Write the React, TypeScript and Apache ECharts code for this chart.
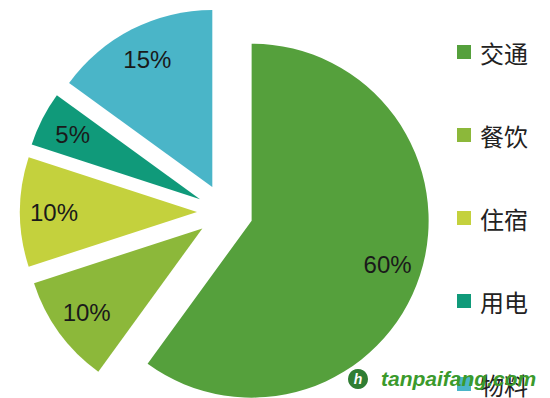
import React, { useEffect, useRef } from "react";
import * as echarts from "echarts";

const categories = ["交通", "餐饮", "住宿", "用电", "物料"];
const shares = [60, 10, 10, 5, 15];
const sliceColors = ["#55a03c", "#8cb83a", "#c4d13d", "#109a7a", "#4ab5c8"];
const watermarkText = "tanpaifang.com";

export default function App() {
  const ref = useRef<HTMLDivElement>(null);

  useEffect(() => {
    if (!ref.current) return;
    const chart = echarts.init(ref.current, null, { renderer: "svg" });

    const pieData = categories.map((name, i) => ({
      name,
      value: shares[i],
      selected: true,
      itemStyle: { color: sliceColors[i] },
    }));

    const labelData = categories.map((name, i) => ({
      name,
      value: shares[i],
      selected: true,
    }));

    chart.setOption({
      animation: false,
      backgroundColor: "#ffffff",
      legend: {
        data: categories,
        orient: "vertical",
        left: 457,
        top: 40,
        padding: 0,
        height: 358,
        itemWidth: 14,
        itemHeight: 14,
        itemGap: 59,
        icon: "rect",
        selectedMode: false,
        textStyle: {
          fontSize: 24,
          lineHeight: 24,
          color: "#222222",
          fontFamily: "Noto Sans CJK SC",
          padding: [0, 0, 0, 4],
        },
      },
      series: [
        {
          type: "pie",
          center: [225, 212],
          radius: 177,
          startAngle: 90,
          clockwise: true,
          selectedMode: "multiple",
          selectedOffset: 28,
          avoidLabelOverlap: false,
          label: { show: false },
          labelLine: { show: false },
          emphasis: { disabled: true },
          itemStyle: { borderWidth: 0 },
          data: pieData,
        },
        {
          type: "pie",
          center: [225, 212],
          radius: [103, 177],
          startAngle: 90,
          clockwise: true,
          selectedMode: "multiple",
          selectedOffset: 28,
          silent: true,
          legendHoverLink: false,
          avoidLabelOverlap: false,
          itemStyle: { color: "transparent", borderWidth: 0 },
          emphasis: { disabled: true },
          label: {
            show: true,
            position: "inside",
            formatter: "{c}%",
            fontSize: 24,
            color: "#1a1a1a",
            fontFamily: "Liberation Sans",
          },
          labelLine: { show: false },
          data: labelData,
        },
      ],
      graphic: [
        {
          type: "circle",
          shape: { cx: 358, cy: 379, r: 10 },
          style: { fill: "#2f7d33" },
          z: 100,
        },
        {
          type: "text",
          x: 358,
          y: 379,
          style: {
            text: "h",
            fill: "#ffffff",
            font: "italic bold 14px Liberation Sans",
            align: "center",
            verticalAlign: "middle",
          },
          z: 101,
        },
        {
          type: "text",
          x: 381,
          y: 378,
          style: {
            text: watermarkText,
            fill: "#3b9a2c",
            font: "italic bold 21px Liberation Sans",
            verticalAlign: "middle",
          },
          z: 100,
        },
      ],
    });

    return () => chart.dispose();
  }, []);

  return (
    <div
      ref={ref}
      style={{ position: "fixed", left: 0, top: 0, width: 550, height: 398 }}
    />
  );
}
